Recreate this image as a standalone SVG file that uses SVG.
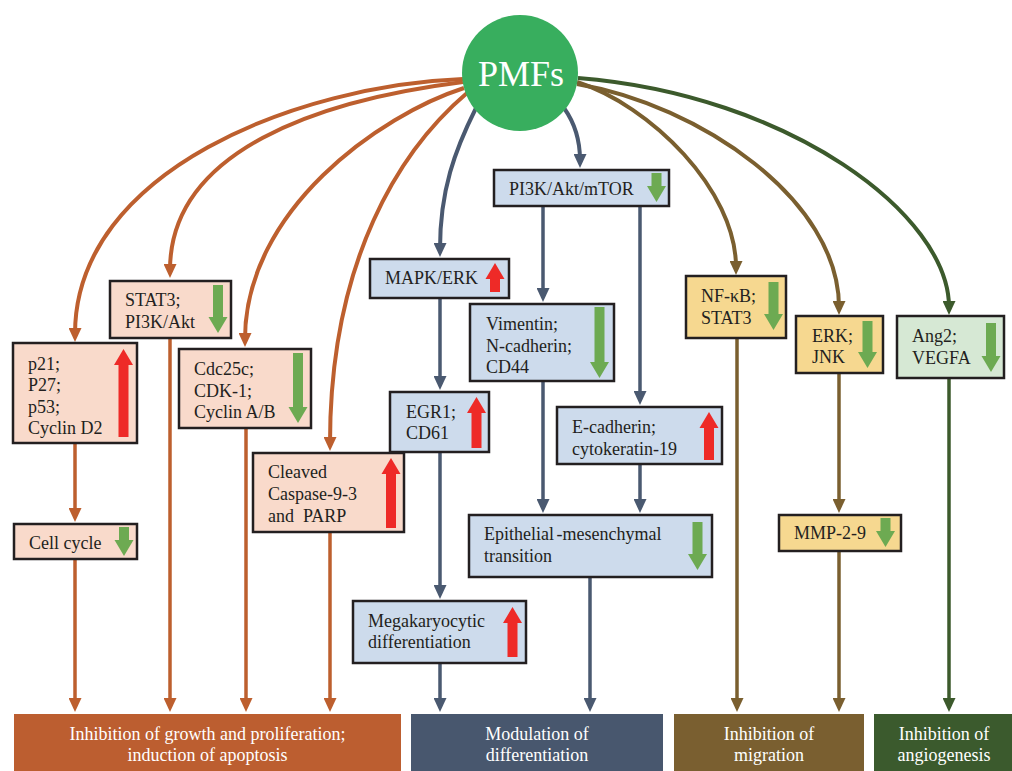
<svg xmlns="http://www.w3.org/2000/svg" width="1012" height="771" viewBox="0 0 1012 771">
<style>
.t{font-family:"Liberation Serif","Times New Roman",serif;font-size:18px;fill:#231f20}
.bt{font-family:"Liberation Serif","Times New Roman",serif;font-size:18px;fill:#ffffff;text-anchor:middle}
.box{stroke:#231f20;stroke-width:2.5}
.o{fill:#F9DACB}.b{fill:#CDDBEC}.y{fill:#F6D890}.g{fill:#D6E8D4}
.up{fill:#EE2A27}.dn{fill:#6DAA52}
.c{fill:none;stroke-width:4}
.v{fill:none;stroke-width:3.5}
.co{stroke:#BD5F2E}.cb{stroke:#4A5970}.cw{stroke:#7A5F2F}.cg{stroke:#3C5A2C}
</style>
<defs>
<marker id="ao" viewBox="0 0 14 13" markerUnits="userSpaceOnUse" markerWidth="14" markerHeight="13" refX="6" refY="6.5" orient="auto"><path d="M0,0 L14,6.5 L0,13 Z" fill="#BD5F2E"/></marker>
<marker id="ab" viewBox="0 0 14 13" markerUnits="userSpaceOnUse" markerWidth="14" markerHeight="13" refX="6" refY="6.5" orient="auto"><path d="M0,0 L14,6.5 L0,13 Z" fill="#4A5970"/></marker>
<marker id="aw" viewBox="0 0 14 13" markerUnits="userSpaceOnUse" markerWidth="14" markerHeight="13" refX="6" refY="6.5" orient="auto"><path d="M0,0 L14,6.5 L0,13 Z" fill="#7A5F2F"/></marker>
<marker id="ag" viewBox="0 0 14 13" markerUnits="userSpaceOnUse" markerWidth="14" markerHeight="13" refX="6" refY="6.5" orient="auto"><path d="M0,0 L14,6.5 L0,13 Z" fill="#3C5A2C"/></marker>
</defs>
<rect width="1012" height="771" fill="#ffffff"/>

<g id="connectors">
<path class="c co" marker-end="url(#ao)" d="M463,79 C300,85 75,170 75,334"/>
<path class="c co" marker-end="url(#ao)" d="M463,82 C320,100 170,150 170,270"/>
<path class="c co" marker-end="url(#ao)" d="M464,88 C380,115 245,210 245,339"/>
<path class="c co" marker-end="url(#ao)" d="M467,93 C400,150 330,260 330,443"/>
<path class="c cb" marker-end="url(#ab)" d="M476,108 C455,150 440,190 440,249"/>
<path class="c cb" marker-end="url(#ab)" d="M564,108 C574,122 580,140 580,160"/>
<path class="c cw" marker-end="url(#aw)" d="M577,82 C650,105 736,190 736,267"/>
<path class="c cw" marker-end="url(#aw)" d="M577,84 C700,105 839,200 839,307"/>
<path class="c cg" marker-end="url(#ag)" d="M578,78 C790,95 949,215 949,307"/>

<path class="v co" marker-end="url(#ao)" d="M75,443 V514"/>
<path class="v co" marker-end="url(#ao)" d="M75,559 V704"/>
<path class="v co" marker-end="url(#ao)" d="M170,338 V704"/>
<path class="v co" marker-end="url(#ao)" d="M246,428 V704"/>
<path class="v co" marker-end="url(#ao)" d="M330,532 V704"/>
<path class="v cb" marker-end="url(#ab)" d="M440,298 V382"/>
<path class="v cb" marker-end="url(#ab)" d="M440,452 V591"/>
<path class="v cb" marker-end="url(#ab)" d="M440,663 V704"/>
<path class="v cb" marker-end="url(#ab)" d="M543,206 V294"/>
<path class="v cb" marker-end="url(#ab)" d="M640,206 V397"/>
<path class="v cb" marker-end="url(#ab)" d="M543,381 V505"/>
<path class="v cb" marker-end="url(#ab)" d="M640,464 V505"/>
<path class="v cb" marker-end="url(#ab)" d="M590,577 V704"/>
<path class="v cw" marker-end="url(#aw)" d="M737,338 V704"/>
<path class="v cw" marker-end="url(#aw)" d="M839,373 V505"/>
<path class="v cw" marker-end="url(#aw)" d="M839,551 V704"/>
<path class="v cg" marker-end="url(#ag)" d="M949,378 V704"/>
</g>

<g id="pmfs">
<circle cx="520" cy="73" r="58" fill="#38AE5E"/>
<text x="521" y="86" font-family="Liberation Serif, Times New Roman, serif" font-size="36" fill="#ffffff" text-anchor="middle">PMFs</text>
</g>

<g id="stat3">
<rect class="box o" x="110" y="281" width="121" height="57"/>
<text class="t" x="125" y="306">STAT3;</text>
<text class="t" x="125" y="328">PI3K/Akt</text>
<path class="dn" d="M213,285 H223 V317 H227.5 L218,333 L208.5,317 H213 Z"/>
</g>

<g id="p21">
<rect class="box o" x="13" y="343" width="124" height="100"/>
<text class="t" x="28" y="370">p21;</text>
<text class="t" x="28" y="391">P27;</text>
<text class="t" x="28" y="413">p53;</text>
<text class="t" x="28" y="434">Cyclin D2</text>
<path class="up" d="M123.5,349 L133,365 H128.5 V437 H118.5 V365 H114 Z"/>
</g>

<g id="cdc25c">
<rect class="box o" x="179" y="349" width="132" height="79"/>
<text class="t" x="194" y="375">Cdc25c;</text>
<text class="t" x="194" y="397">CDK-1;</text>
<text class="t" x="194" y="418">Cyclin A/B</text>
<path class="dn" d="M293,353 H303 V407 H307.5 L298,423 L288.5,407 H293 Z"/>
</g>

<g id="cleaved">
<rect class="box o" x="253" y="453" width="151" height="79"/>
<text class="t" x="268" y="478">Cleaved</text>
<text class="t" x="268" y="500">Caspase-9-3</text>
<text class="t" x="268" y="522" xml:space="preserve">and  PARP</text>
<path class="up" d="M391,458 L400.5,474 H396 V528 H386 V474 H381.5 Z"/>
</g>

<g id="cellcycle">
<rect class="box o" x="14" y="524" width="123" height="35"/>
<text class="t" x="29" y="549">Cell cycle</text>
<path class="dn" d="M119,527 H129 V540 H133.5 L124,556 L114.5,540 H119 Z"/>
</g>

<g id="pi3k-mtor">
<rect class="box b" x="494" y="170" width="175" height="36"/>
<text class="t" x="509" y="195">PI3K/Akt/mTOR</text>
<path class="dn" d="M651.5,173 H661.5 V186 H666 L656.5,202 L647,186 H651.5 Z"/>
</g>

<g id="mapk">
<rect class="box b" x="370" y="259" width="139" height="39"/>
<text class="t" x="385" y="284">MAPK/ERK</text>
<path class="up" d="M495,263 L504.5,279 H500 V292 H490 V279 H485.5 Z"/>
</g>

<g id="vimentin">
<rect class="box b" x="470" y="304" width="144" height="77"/>
<text class="t" x="486" y="330">Vimentin;</text>
<text class="t" x="486" y="352">N-cadherin;</text>
<text class="t" x="486" y="373">CD44</text>
<path class="dn" d="M594.5,307 H604.5 V362 H609 L599.5,378 L590,362 H594.5 Z"/>
</g>

<g id="egr1">
<rect class="box b" x="390" y="392" width="99" height="60"/>
<text class="t" x="406" y="418">EGR1;</text>
<text class="t" x="406" y="439">CD61</text>
<path class="up" d="M476.5,397 L486,413 H481.5 V448 H471.5 V413 H467 Z"/>
</g>

<g id="ecadherin">
<rect class="box b" x="557" y="407" width="165" height="57"/>
<text class="t" x="572" y="433">E-cadherin;</text>
<text class="t" x="572" y="455">cytokeratin-19</text>
<path class="up" d="M709,412 L718.5,428 H714 V460 H704 V428 H699.5 Z"/>
</g>

<g id="emt">
<rect class="box b" x="469" y="515" width="243" height="62"/>
<text class="t" x="484" y="540">Epithelial<tspan dx="-2"> -mesenchymal</tspan></text>
<text class="t" x="484" y="562">transition</text>
<path class="dn" d="M692.5,522 H702.5 V554 H707 L697.5,570 L688,554 H692.5 Z"/>
</g>

<g id="megakaryocytic">
<rect class="box b" x="353" y="601" width="173" height="62"/>
<text class="t" x="368" y="627">Megakaryocytic</text>
<text class="t" x="368" y="648">differentiation</text>
<path class="up" d="M512.5,607 L522,623 H517.5 V657 H507.5 V623 H503 Z"/>
</g>

<g id="nfkb">
<rect class="box y" x="686" y="276" width="100" height="62"/>
<text class="t" x="701" y="302">NF-κB;</text>
<text class="t" x="701" y="324">STAT3</text>
<path class="dn" d="M768.5,282 H778.5 V314 H783 L773.5,330 L764,314 H768.5 Z"/>
</g>

<g id="erk-jnk">
<rect class="box y" x="796" y="316" width="87" height="57"/>
<text class="t" x="812" y="342">ERK;</text>
<text class="t" x="812" y="363">JNK</text>
<path class="dn" d="M862.5,321 H872.5 V352 H877 L867.5,368 L858,352 H862.5 Z"/>
</g>

<g id="ang2">
<rect class="box g" x="897" y="316" width="107" height="62"/>
<text class="t" x="912" y="342">Ang2;</text>
<text class="t" x="912" y="364">VEGFA</text>
<path class="dn" d="M986,323 H996 V356 H1000.5 L991,372 L981.5,356 H986 Z"/>
</g>

<g id="mmp">
<rect class="box y" x="779" y="515" width="122" height="36"/>
<text class="t" x="794" y="539">MMP-2-9</text>
<path class="dn" d="M880.5,518 H890.5 V531 H895 L885.5,547 L876,531 H880.5 Z"/>
</g>

<g id="bar-growth">
<rect x="14" y="714" width="387" height="57" fill="#BC5E30"/>
<text class="bt" x="207.5" y="740">Inhibition of growth and proliferation;</text>
<text class="bt" x="207.5" y="761">induction of apoptosis</text>
</g>
<g id="bar-differentiation">
<rect x="411" y="714" width="252" height="57" fill="#48576E"/>
<text class="bt" x="537" y="740">Modulation of</text>
<text class="bt" x="537" y="761">differentiation</text>
</g>
<g id="bar-migration">
<rect x="674" y="714" width="190" height="57" fill="#7A5F30"/>
<text class="bt" x="769" y="740">Inhibition of</text>
<text class="bt" x="769" y="761">migration</text>
</g>
<g id="bar-angiogenesis">
<rect x="874" y="714" width="138" height="57" fill="#3B5A2D"/>
<text class="bt" x="944" y="740">Inhibition of</text>
<text class="bt" x="944" y="761">angiogenesis</text>
</g>
</svg>
